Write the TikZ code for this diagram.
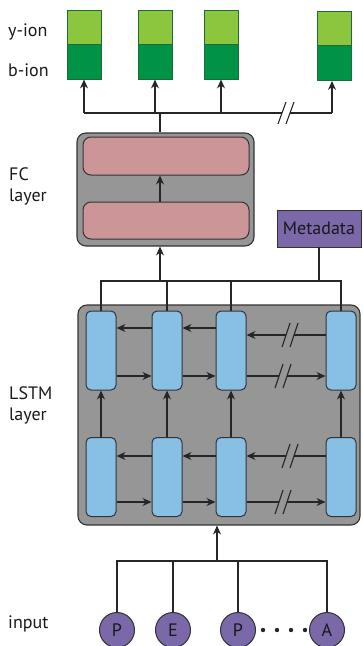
\documentclass[tikz,border=0pt]{standalone}
\usepackage{fontspec}
\setmainfont{PT Sans}
\usetikzlibrary{arrows.meta}
\definecolor{ylight}{HTML}{8CC63F}
\definecolor{bdark}{HTML}{009245}
\definecolor{gborder}{HTML}{1E6B3A}
\definecolor{layergray}{HTML}{969696}
\definecolor{fcpink}{HTML}{CC9598}
\definecolor{cellblue}{HTML}{87BFE5}
\definecolor{purp}{HTML}{7A68A9}
\definecolor{edge}{HTML}{333333}
\begin{document}
\begin{tikzpicture}[x=1pt,y=-1pt,
  txt/.style={font=\fontsize{18}{21}\selectfont, text=black!90},
  lbl/.style={txt, anchor=west, align=left, inner sep=0pt},
  ybox/.style={draw=gborder, line width=0.9pt, fill=ylight, minimum width=34pt, minimum height=34pt, inner sep=0pt},
  bbox/.style={draw=gborder, line width=0.9pt, fill=bdark, minimum width=34pt, minimum height=35pt, inner sep=0pt},
  layerbox/.style={draw=edge, line width=1.1pt, fill=layergray, rounded corners=9pt, inner sep=0pt},
  fcbox/.style={draw=edge, line width=1pt, fill=fcpink, rounded corners=8pt, minimum width=166pt, minimum height=37pt, inner sep=0pt},
  cell/.style={draw=edge, line width=1pt, fill=cellblue, rounded corners=5pt, minimum width=30pt, minimum height=79pt, inner sep=0pt},
  inp/.style={draw=edge, line width=1pt, fill=purp, circle, minimum size=35pt, inner sep=0pt, txt},
  meta/.style={draw=edge, line width=0.8pt, fill=purp, minimum width=84pt, minimum height=37pt, inner sep=0pt, txt},
  conn/.style={line width=1.1pt, draw=black!85},
  bus/.style={line width=1.9pt, draw=black!85},
  arr/.style={conn, -{Stealth[length=9pt,width=8pt]}},
  brk/.style={line width=1.1pt, draw=black!85}
]
\useasboundingbox (0,0) rectangle (362,646);

% labels
\node[lbl] (ly) at (8,32) {y-ion};
\node[lbl] (lb) at (8,70) {b-ion};
\node[lbl] (lfc1) at (9,174) {FC};
\node[lbl] (lfc2) at (9,197) {layer};
\node[lbl] (lls1) at (9,393) {LSTM};
\node[lbl] (lls2) at (9,416) {layer};
\node[lbl] (lin) at (8,624) {input};

% ion boxes
\node[ybox] (y1) at (84,27) {};
\node[bbox] (b1) at (84,61.5) {};
\node[ybox] (y2) at (155,27) {};
\node[bbox] (b2) at (155,61.5) {};
\node[ybox] (y3) at (221,27) {};
\node[bbox] (b3) at (221,61.5) {};
\node[ybox] (y4) at (334.5,28.5) {};
\node[bbox] (b4) at (334.5,63) {};

% FC layer
\node[layerbox, minimum width=177pt, minimum height=113pt] (fc) at (165.5,189.5) {};
\node[fcbox, minimum height=38pt] (fc1) at (166,156) {};
\node[fcbox] (fc2) at (166,220.5) {};
\draw[arr] (fc2.north -| 160,0) -- (fc1.south -| 160,0);

% Metadata
\node[meta] (md) at (319,228.5) {Metadata};

% output bus to ions
\coordinate (ob) at (160,113);
\coordinate (ol) at (84,113);
\coordinate (or) at (332,113);
\draw[conn] (fc.north -| ob) -- (ob);
\draw[conn] (b3.south |- ol) -- (ol);
\draw[conn] (b3.south |- ol) -- (282,113);
\draw[conn] (290,113) -- (or);
\draw[brk] (278,124) -- (286,102);
\draw[brk] (286,124) -- (294,102);
\draw[arr] (ol) -- (b1.south);
\draw[arr] (b2.south |- ol) -- (b2.south);
\draw[arr] (b3.south |- ol) -- (b3.south);
\draw[arr] (or) -- (or |- b4.south);

% LSTM layer
\node[layerbox, minimum width=282pt, minimum height=220pt] (ls) at (219,415) {};
\node[cell] (t1) at (101,350.5) {};
\node[cell] (t2) at (167,350.5) {};
\node[cell] (t3) at (231,350.5) {};
\node[cell] (t4) at (341,350.5) {};
\node[cell] (d1) at (101,477) {};
\node[cell] (d2) at (167,477) {};
\node[cell] (d3) at (231,477) {};
\node[cell] (d4) at (341,477) {};

% bus from top cells
\coordinate (lb1) at (101,281);
\coordinate (lb4) at (341,281);
\draw[bus] (t1.north) -- (lb1) -- (lb4) -- (t4.north);
\draw[bus] (t2.north) -- (t2.north |- lb1);
\draw[bus] (t3.north) -- (t3.north |- lb1);
\draw[arr] (lb1 -| 160,0) -- (fc.south -| 160,0);
\draw[conn] (md.south) -- (md.south |- lb1);

% vertical arrows between rows
\foreach \i in {1,2,3,4}{
  \draw[arr] (d\i.north) -- (t\i.south);
}

% top row horizontal
\draw[arr] (t2.west |- 0,328) -- (t1.east |- 0,328);
\draw[arr] (t3.west |- 0,328) -- (t2.east |- 0,328);
\draw[conn] (t4.west |- 0,335) -- (294,335);
\draw[arr] (286,335) -- (t3.east |- 0,335);
\draw[brk] (282,347) -- (290,323);
\draw[brk] (290,347) -- (298,323);
\draw[arr] (t1.east |- 0,376) -- (t2.west |- 0,376);
\draw[arr] (t2.east |- 0,376) -- (t3.west |- 0,376);
\draw[conn] (t3.east |- 0,376) -- (279,376);
\draw[arr] (287,376) -- (t4.west |- 0,376);
\draw[brk] (275,388) -- (283,364);
\draw[brk] (283,388) -- (291,364);

% bottom row horizontal
\draw[arr] (d2.west |- 0,456) -- (d1.east |- 0,456);
\draw[arr] (d3.west |- 0,456) -- (d2.east |- 0,456);
\draw[conn] (d4.west |- 0,456) -- (294,456);
\draw[arr] (286,456) -- (d3.east |- 0,456);
\draw[brk] (282,468) -- (290,444);
\draw[brk] (290,468) -- (298,444);
\draw[arr] (d1.east |- 0,502) -- (d2.west |- 0,502);
\draw[arr] (d2.east |- 0,502) -- (d3.west |- 0,502);
\draw[conn] (d3.east |- 0,502) -- (279,502);
\draw[arr] (287,502) -- (d4.west |- 0,502);
\draw[brk] (275,514) -- (283,490);
\draw[brk] (283,514) -- (291,490);

% inputs
\node[inp] (p1) at (117,630) {P};
\node[inp] (e1) at (173,630) {E};
\node[inp] (p2) at (238,630) {P};
\node[inp] (a1) at (327,630) {A};
\foreach \x [count=\k] in {263,277,291,305}{
  \fill[black!85] (\x,630) circle (2.2pt) coordinate (dot\k);
}
\coordinate (ib1) at (117,561);
\coordinate (ib4) at (327,561);
\draw[bus] (p1.north) -- (ib1) -- (ib4) -- (a1.north);
\draw[bus] (e1.north) -- (e1.north |- ib1);
\draw[bus] (p2.north) -- (p2.north |- ib1);
\draw[arr] (217,561) -- (ls.south -| 217,0);
\end{tikzpicture}
\end{document}
